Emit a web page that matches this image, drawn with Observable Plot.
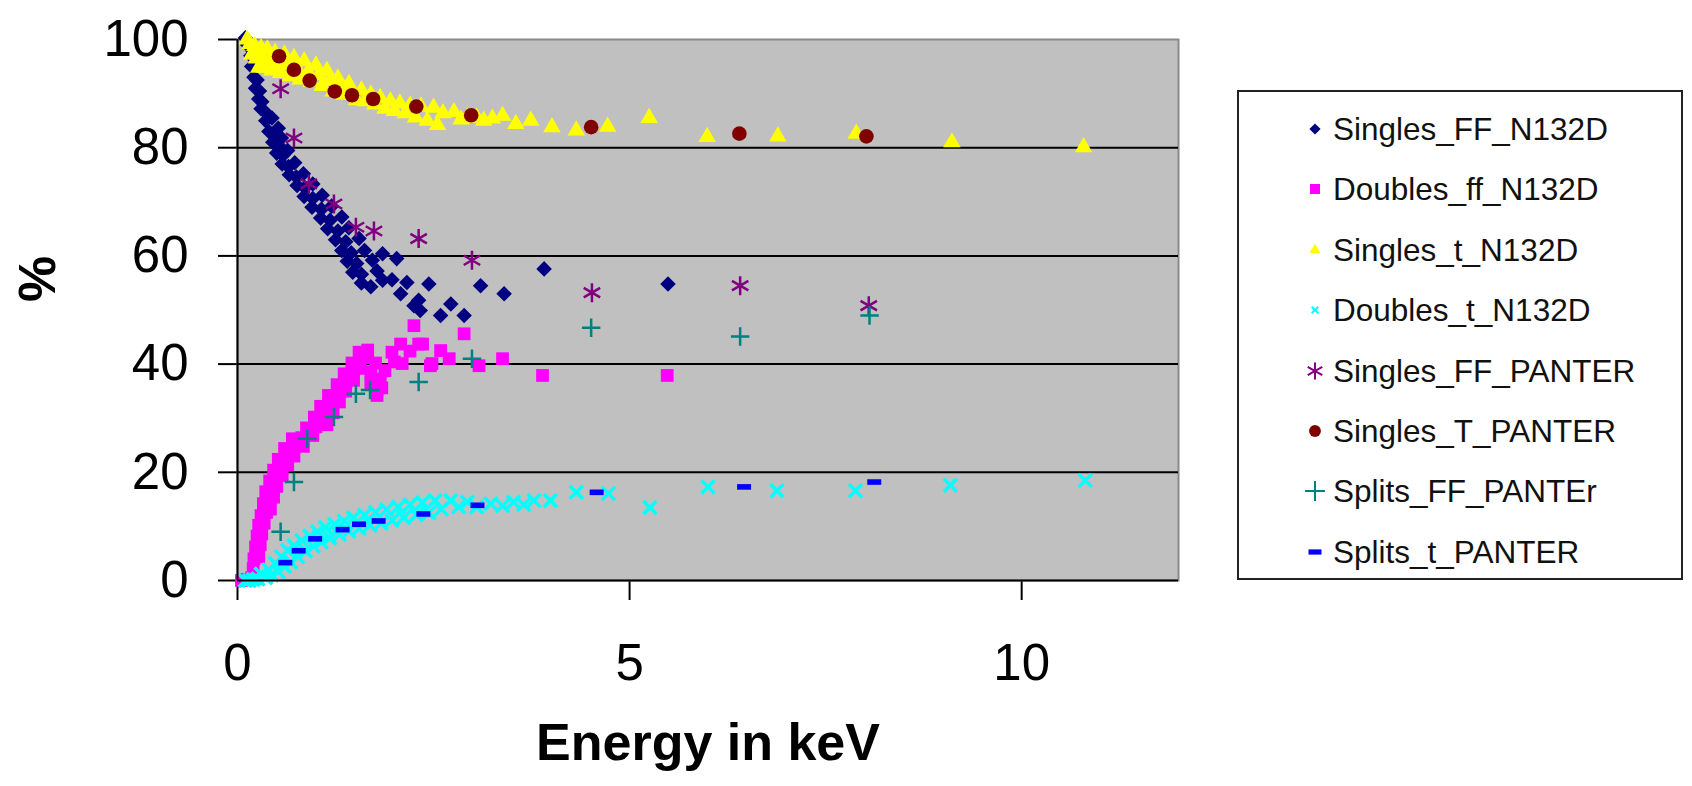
<!DOCTYPE html>
<html>
<head>
<meta charset="utf-8">
<script src="https://cdn.jsdelivr.net/npm/d3@7"></script>
<script src="https://cdn.jsdelivr.net/npm/@observablehq/plot@0.6"></script>
<style>
  html, body { margin: 0; padding: 0; background: #fff; }
  #wrap { position: relative; width: 1692px; height: 786px; overflow: hidden; font-family: "Liberation Sans", Arial, sans-serif; }
  #wrap svg [aria-label^="x-axis"] line, #wrap svg [aria-label^="x-axis"] path,
  #wrap svg [aria-label^="y-axis"] line, #wrap svg [aria-label^="y-axis"] path { stroke-width: 2px; }
  #legend { position: absolute; left: 1237px; top: 90px; width: 446px; height: 490px; box-sizing: border-box; border: 2px solid #222; background: #fff; }
  .lrow { position: absolute; left: 0; height: 40px; }
  .lrow svg { position: absolute; left: 64px; top: 8px; }
  .lrow span { position: absolute; left: 94px; white-space: nowrap; font-size: 31.5px; color: #111; line-height: 40px; top: 0; }
</style>
</head>
<body>
<div id="wrap"></div>
<script>
// ---- Tick values ----
const energyTicks = [0, 5, 10];
const percentTicks = [0, 20, 40, 60, 80, 100];
const gridLevels = [20, 40, 60, 80];

// ---- Series names ----
const seriesNames = ["Singles_FF_N132D", "Doubles_ff_N132D", "Singles_t_N132D", "Doubles_t_N132D",
  "Singles_FF_PANTER", "Singles_T_PANTER", "Splits_FF_PANTEr", "Splits_t_PANTER"];

// ---- Series values: [energy keV, percent] ----
const singlesFF_N132D = [[0.10,100.3],[0.13,99],[0.17,97],[0.2,97.8],[0.18,95],[0.23,95.5],[0.21,93],[0.25,92.5],[0.23,91],[0.28,90.5],[0.27,89],[0.31,88.5],[0.3,87.2],[0.36,86.5],[0.36,85],[0.44,85.5],[0.4,83],[0.47,82.6],[0.52,83.6],[0.45,81],[0.52,80.5],[0.56,81.8],[0.5,79],[0.58,78.6],[0.64,79.5],[0.57,77],[0.65,76.5],[0.73,77.2],[0.66,75],[0.75,74.6],[0.84,75.2],[0.76,73],[0.86,72.6],[0.96,73.3],[0.85,71],[0.96,70.6],[1.08,71.2],[0.95,69],[1.07,68.6],[1.2,69.2],[1.06,67],[1.18,66.6],[1.33,67.2],[1.15,65],[1.28,64.6],[1.42,65.2],[1.25,63],[1.38,62.6],[1.55,63.2],[1.33,61],[1.45,60.6],[1.62,61],[1.4,59],[1.52,58.6],[1.72,59.2],[1.47,57],[1.58,56.6],[1.78,57.2],[1.58,55],[1.7,54.3],[1.85,55.5],[1.85,60.4],[1.97,55.6],[2.03,59.5],[2.08,53.0],[2.16,55.1],[2.25,50.8],[2.31,51.8],[2.33,49.9],[2.44,54.8],[2.59,49.0],[2.72,51.1],[2.89,49.0],[3.10,54.5],[3.40,53.0],[3.91,57.6],[5.49,54.8]];
const doublesFF_N132D = [[0.05,0],[0.12,0.2],[0.18,0.5],[0.2,2.2],[0.21,4],[0.27,4.4],[0.23,6.2],[0.29,6.6],[0.25,8.2],[0.31,8.6],[0.27,10.2],[0.34,10.6],[0.3,12],[0.37,12.6],[0.42,13.2],[0.33,14.2],[0.4,14.8],[0.46,15.4],[0.36,16.4],[0.44,16.8],[0.5,17.4],[0.41,18.4],[0.48,18.8],[0.57,19.4],[0.46,20.4],[0.55,20.8],[0.64,21.4],[0.52,22.4],[0.62,22.6],[0.72,23],[0.6,24.4],[0.72,24.6],[0.84,24.8],[0.7,26.2],[0.82,26.4],[0.96,26.8],[0.88,28.2],[1.0,28.4],[1.14,28.8],[0.98,30.2],[1.1,30.6],[1.22,31],[1.06,32.2],[1.18,32.6],[1.3,33],[1.16,34.2],[1.28,34.6],[1.38,35],[1.78,34.2],[1.84,35.6],[1.27,36.2],[1.38,36.6],[1.48,37],[1.7,36.4],[1.82,37.2],[1.36,38.2],[1.46,38.6],[1.56,39.2],[1.7,38.6],[1.88,38.8],[1.46,40.2],[1.56,40.8],[1.66,41.2],[1.76,40.2],[2.0,40.4],[2.1,40.1],[1.55,42.2],[1.66,42.6],[1.97,42.2],[2.08,43.7],[2.2,42.4],[2.36,43.7],[2.25,47.1],[2.31,43.7],[2.46,39.7],[2.48,40.1],[2.59,42.5],[2.7,41.0],[2.89,45.6],[3.08,39.7],[3.38,41.0],[3.89,37.9],[5.48,37.9]];
const singlesT_N132D = [[0.12,100],[0.16,99.2],[0.18,97.2],[0.22,98.8],[0.24,96.5],[0.27,94.8],[0.3,98.4],[0.32,96.6],[0.35,94.8],[0.38,98.2],[0.41,96.2],[0.44,94.3],[0.48,97.6],[0.52,95.6],[0.55,93.8],[0.6,97.2],[0.64,95.2],[0.67,93.2],[0.72,96.6],[0.76,94.6],[0.8,92.6],[0.85,96.0],[0.9,94.0],[0.94,92.2],[1.0,95.2],[1.04,93.4],[1.08,91.4],[1.14,94.2],[1.18,92.4],[1.22,90.4],[1.28,92.8],[1.32,91.2],[1.36,89.8],[1.42,91.8],[1.47,90.0],[1.52,88.8],[1.58,90.6],[1.63,88.6],[1.7,89.8],[1.75,88.0],[1.82,89.2],[1.88,87.2],[1.95,88.6],[2.0,86.8],[2.07,88.2],[2.14,86.4],[2.2,87.8],[2.27,85.6],[2.34,87.6],[2.42,85.0],[2.5,87.4],[2.55,84.2],[2.62,86.4],[2.76,86.6],[2.85,85.2],[2.93,85.6],[3.05,85.6],[3.14,85.0],[3.25,85.4],[3.38,85.9],[3.55,84.4],[3.74,85.0],[4.01,83.8],[4.32,83.2],[4.72,83.9],[5.25,85.5],[5.99,82.0],[6.89,82.1],[7.89,82.6],[9.11,81.0],[10.79,80.1]];
const doublesT_N132D = [[0.1,0],[0.15,0],[0.2,0.2],[0.26,0.3],[0.3,1.2],[0.36,0.5],[0.4,2],[0.44,1],[0.48,3.2],[0.52,1.6],[0.56,4.4],[0.6,2.6],[0.64,5.6],[0.68,3.4],[0.72,6.4],[0.77,4.4],[0.82,7.4],[0.87,5.4],[0.92,8.2],[0.97,6.3],[1.02,9.0],[1.07,7.1],[1.12,9.8],[1.18,7.8],[1.24,10.4],[1.3,8.5],[1.36,11.0],[1.42,9.1],[1.48,11.6],[1.55,9.6],[1.62,12.1],[1.69,10.2],[1.76,12.6],[1.83,10.6],[1.9,13.1],[1.97,11.1],[2.05,13.6],[2.12,11.6],[2.2,14.0],[2.28,12.1],[2.36,14.4],[2.44,12.5],[2.52,14.8],[2.6,13.2],[2.72,14.8],[2.82,13.6],[2.93,14.5],[3.05,13.6],[3.23,14.2],[3.38,13.8],[3.52,14.5],[3.65,14.0],[3.78,14.8],[3.99,14.8],[4.32,16.3],[4.73,16.1],[5.26,13.5],[6.0,17.3],[6.88,16.6],[7.88,16.6],[9.09,17.6],[10.81,18.5]];
const singlesFF_PANTER = [[0.55,90.9],[0.72,81.8],[0.91,73.3],[1.23,69.6],[1.51,65.3],[1.74,64.6],[2.31,63.2],[2.99,59.2],[4.52,53.2],[6.41,54.5],[8.05,50.8]];
const singlesT_PANTER = [[0.53,96.9],[0.72,94.4],[0.92,92.4],[1.24,90.4],[1.46,89.7],[1.73,89.0],[2.28,87.6],[2.98,86.0],[4.51,83.8],[6.40,82.6],[8.02,82.1]];
const splitsFF_PANTER = [[0.55,9.0],[0.72,18.2],[0.89,26.2],[1.23,30.2],[1.51,34.5],[1.69,35.2],[2.31,36.7],[2.99,41.0],[4.51,46.7],[6.41,45.1],[8.06,49.0]];
const splitsT_PANTER = [[0.61,3.3],[0.78,5.5],[0.99,7.7],[1.34,9.4],[1.55,10.4],[1.80,11.0],[2.37,12.3],[3.06,13.9],[4.58,16.3],[6.46,17.3],[8.12,18.2]];

// ---- Styles ----
const dashSymbol = {
  draw(context, size) {
    const r = Math.sqrt(size / Math.PI);
    context.moveTo(-r, -0.4 * r); context.lineTo(r, -0.4 * r);
    context.lineTo(r, 0.4 * r); context.lineTo(-r, 0.4 * r); context.closePath();
  }
};
const seriesData = [singlesFF_N132D, doublesFF_N132D, singlesT_N132D, doublesT_N132D,
  singlesFF_PANTER, singlesT_PANTER, splitsFF_PANTER, splitsT_PANTER];
const seriesStyle = [
  {symbol: d3.symbolDiamond2, r: 7, fill: "#000080"},
  {symbol: d3.symbolSquare, r: 7.2, fill: "#ff00ff"},
  {symbol: d3.symbolTriangle, r: 6.5, fill: "#ffff00"},
  {symbol: d3.symbolTimes, r: 6, stroke: "#00ffff", strokeWidth: 3.5},
  {symbol: d3.symbolAsterisk, r: 9, stroke: "#800080", strokeWidth: 2.5},
  {symbol: d3.symbolCircle, r: 7.3, fill: "#800000"},
  {symbol: d3.symbolPlus, r: 6, stroke: "#008080", strokeWidth: 2.5},
  {symbol: dashSymbol, r: 7, fill: "#0000ff"}
];
const legendStyle = [
  {size: 80, fill: "#000080"}, {size: 100, fill: "#ff00ff"}, {size: 50, fill: "#ffff00"},
  {size: 30, stroke: "#00ffff", sw: 2}, {size: 200, stroke: "#800080", sw: 2},
  {size: 110, fill: "#800000"}, {size: 130, stroke: "#008080", sw: 2}, {size: 133, fill: "#0000ff"}
];

const dotMarks = seriesData.map((data, i) => {
  const s = seriesStyle[i];
  return Plot.dot(data, {
    x: d => d[0], y: d => d[1], symbol: s.symbol, r: s.r,
    fill: s.fill || "none", stroke: s.stroke || "none", strokeWidth: s.strokeWidth || 0
  });
});

const chart = Plot.plot({
  width: 1692, height: 786,
  marginLeft: 237, marginRight: 514, marginTop: 39, marginBottom: 206,
  x: {domain: [0, 12], ticks: energyTicks, tickSize: 20, tickPadding: 43, label: null},
  y: {domain: [0, 100], ticks: percentTicks, tickSize: 19, tickPadding: 30, label: null},
  style: {fontFamily: "'Liberation Sans', Arial, sans-serif", fontSize: "51px", background: "white", color: "black", overflow: "visible"},
  marks: [
    Plot.frame({fill: "#c0c0c0", stroke: "#8a8a8a", strokeWidth: 2}),
    Plot.ruleY(gridLevels, {stroke: "black", strokeWidth: 2}),
    ...dotMarks,
    Plot.ruleX([0], {stroke: "black", strokeWidth: 2}),
    Plot.ruleY([0], {stroke: "black", strokeWidth: 2}),
    Plot.text(["Energy in keV"], {frameAnchor: "bottom", dy: 179, text: d => d, fontSize: 52, fontWeight: "bold", fill: "black"}),
    Plot.text(["%"], {frameAnchor: "left", dx: -199, dy: -8, rotate: -90, text: d => d, fontSize: 52, fontWeight: "bold", fill: "black"})
  ]
});
const wrap = document.getElementById("wrap");
wrap.appendChild(chart);

// ---- Legend ----
const legend = document.createElement("div");
legend.id = "legend";
seriesNames.forEach((name, i) => {
  const row = document.createElement("div");
  row.className = "lrow";
  row.style.top = (37 - 20 + i * 60.4) + "px";
  const ls = legendStyle[i];
  const type = seriesStyle[i].symbol;
  const svg = d3.create("svg").attr("width", 24).attr("height", 24);
  svg.append("path")
    .attr("transform", "translate(12,12)")
    .attr("d", d3.symbol(type, ls.size)())
    .attr("fill", ls.fill || "none")
    .attr("stroke", ls.stroke || "none")
    .attr("stroke-width", ls.sw || 0);
  row.appendChild(svg.node());
  const span = document.createElement("span");
  span.textContent = name;
  row.appendChild(span);
  legend.appendChild(row);
});
wrap.appendChild(legend);
</script>
</body>
</html>
